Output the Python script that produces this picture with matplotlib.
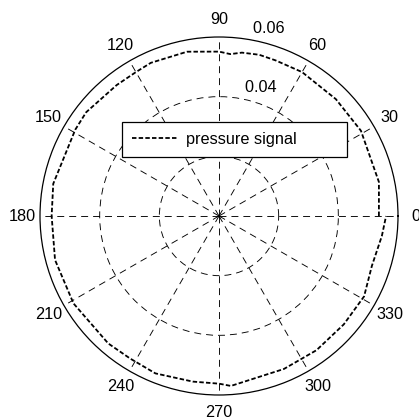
import numpy as np
import matplotlib
matplotlib.use("Agg")
import matplotlib.pyplot as plt

# pressure signal (angle in deg, radius)
theta_deg = [0, 12, 31, 45, 60, 70, 76, 82, 86, 90, 101, 114, 120, 128, 142,
             149, 169, 180, 195, 211, 229, 238, 248, 261, 270, 274, 293, 306,
             319, 331, 342, 353, 360]
pressure = [0.0536, 0.0548, 0.0555, 0.0554, 0.0557, 0.0555, 0.0557, 0.0553,
            0.0544, 0.0551, 0.0561, 0.0562, 0.0557, 0.0557, 0.0565, 0.0562,
            0.0566, 0.0561, 0.0569, 0.0569, 0.0566, 0.0563, 0.0569, 0.0562,
            0.0562, 0.0571, 0.0557, 0.0556, 0.0554, 0.0556, 0.0539, 0.0550,
            0.0560]

rmax = 0.06
ring_ticks = [0.02, 0.04, 0.06]
# the 0.02 label sits behind the legend in the original, so only these show
ring_labels = {0.04: "0.04", 0.06: "0.06"}
spoke_angles = list(range(0, 360, 30))
spoke_labels = [str(a) for a in spoke_angles]

plt.rcParams['font.family'] = ['Liberation Sans', 'DejaVu Sans']
plt.rcParams['font.size'] = 11.7
plt.rcParams['lines.scale_dashes'] = False

fig = plt.figure(figsize=(4.19, 4.19), dpi=100)
ax = fig.add_axes([40 / 419, 1 - 395 / 419, 358 / 419, 358 / 419], projection='polar')

ax.set_ylim(0, rmax)
ax.set_xticks(np.deg2rad(spoke_angles))
ax.set_yticks(ring_ticks[:-1])
ax.set_xticklabels([])
ax.set_yticklabels([])
ax.tick_params(length=0)
ax.grid(True, color='black', linewidth=0.65, linestyle=(0, (5, 3.6)))
ax.spines['polar'].set_linewidth(0.9)

ax.plot(np.deg2rad(theta_deg), pressure, color='black', linewidth=1.3,
        linestyle=(0, (3.2, 1.6)), label='pressure signal')

# angle labels outside the circle, MATLAB style
for a, lab in zip(spoke_angles, spoke_labels):
    ax.text(np.deg2rad(a), 1.1 * rmax, lab, ha='center', va='center', clip_on=False)

# ring labels at 82 degrees
for r, lab in ring_labels.items():
    ax.text(np.deg2rad(82), r + 0.001, '  ' + lab, ha='left', va='bottom', clip_on=False)

leg = ax.legend(loc='upper left', bbox_to_anchor=(122.3 / 419, 1 - 156.7 / 419, 224.4 / 419, 34.4 / 419),
                bbox_transform=fig.transFigure, mode='expand', fancybox=False,
                edgecolor='black', framealpha=1, borderpad=0.6, handlelength=2.8,
                handletextpad=0.5, borderaxespad=0)
leg.get_frame().set_linewidth(0.9)
leg.set_zorder(10)

fig.savefig('out.png', dpi=100)
